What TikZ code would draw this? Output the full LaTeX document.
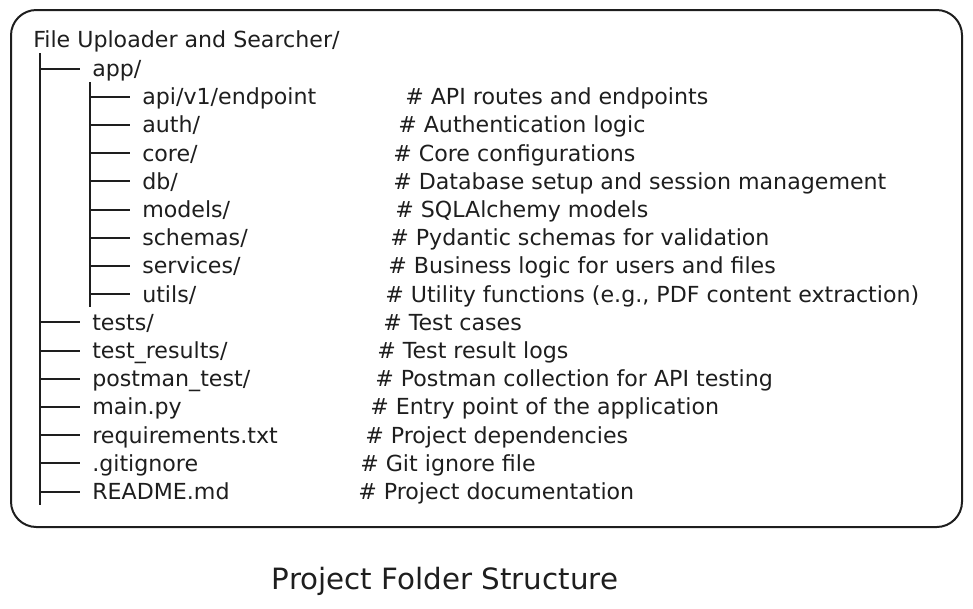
\documentclass[tikz,border=0pt]{standalone}
\usepackage{fontspec}
\setmainfont{DejaVu Sans}
\definecolor{ink}{HTML}{1E1E1E}

\begin{document}
\begin{tikzpicture}[x=0.75pt, y=-0.75pt,
  entry/.style={anchor=west, inner sep=0pt, text height=12pt, text depth=0pt, text=ink, font=\fontsize{16.6}{19}\selectfont},
  tree/.style={draw=ink, line width=1.5pt}]
\useasboundingbox (0,0) rectangle (973,608);
\draw[tree, rounded corners=19pt] (11,10) rectangle (962,527);

% folder names
\node[entry] (root) at (33,39) {File Uploader and Searcher/};
\node[entry] (app) at (92,68.5) {app/};
\node[entry] (api) at (142,96.7) {api/v1/endpoint};
\node[entry] (auth) at (142,124.9) {auth/};
\node[entry] (core) at (142,153.1) {core/};
\node[entry] (db) at (142,181.3) {db/};
\node[entry] (models) at (142,209.5) {models/};
\node[entry] (schemas) at (142,237.7) {schemas/};
\node[entry] (services) at (142,265.9) {services/};
\node[entry] (utils) at (142,294.1) {utils/};
\node[entry] (tests) at (92,322.3) {tests/};
\node[entry] (results) at (92,350.5) {test\_results/};
\node[entry] (postman) at (92,378.7) {postman\_test/};
\node[entry] (mainpy) at (92,406.9) {main.py};
\node[entry] (reqs) at (92,435.1) {requirements.txt};
\node[entry] (gitig) at (92,463.3) {.gitignore};
\node[entry] (readme) at (92,491.5) {README.md};

% comments
\node[entry] (c-api) at (405,96.7) {\# API routes and endpoints};
\node[entry] (c-auth) at (398,124.9) {\# Authentication logic};
\node[entry] (c-core) at (393,153.1) {\# Core configurations};
\node[entry] (c-db) at (393,181.3) {\# Database setup and session management};
\node[entry] (c-models) at (395,209.5) {\# SQLAlchemy models};
\node[entry] (c-schemas) at (390,237.7) {\# Pydantic schemas for validation};
\node[entry] (c-services) at (388,265.9) {\# Business logic for users and files};
\node[entry] (c-utils) at (385,294.1) {\# Utility functions (e.g., PDF content extraction)};
\node[entry] (c-tests) at (383,322.3) {\# Test cases};
\node[entry] (c-results) at (377,350.5) {\# Test result logs};
\node[entry] (c-postman) at (375,378.7) {\# Postman collection for API testing};
\node[entry] (c-mainpy) at (370,406.9) {\# Entry point of the application};
\node[entry] (c-reqs) at (365,435.1) {\# Project dependencies};
\node[entry] (c-gitig) at (360,463.3) {\# Git ignore file};
\node[entry] (c-readme) at (358,491.5) {\# Project documentation};

% tree lines
\coordinate (trunk) at (40,53);
\coordinate (trunkend) at (40,505);
\coordinate (sub) at (90,82);
\coordinate (subend) at (90,307);
\draw[tree] (trunk) -- (trunkend);
\draw[tree] (sub) -- (subend);
\draw[tree] (trunk |- app.west) -- ([xshift=-9pt]app.west);
\draw[tree] (trunk |- tests.west) -- ([xshift=-9pt]tests.west);
\draw[tree] (trunk |- results.west) -- ([xshift=-9pt]results.west);
\draw[tree] (trunk |- postman.west) -- ([xshift=-9pt]postman.west);
\draw[tree] (trunk |- mainpy.west) -- ([xshift=-9pt]mainpy.west);
\draw[tree] (trunk |- reqs.west) -- ([xshift=-9pt]reqs.west);
\draw[tree] (trunk |- gitig.west) -- ([xshift=-9pt]gitig.west);
\draw[tree] (trunk |- readme.west) -- ([xshift=-9pt]readme.west);
\draw[tree] (sub |- api.west) -- ([xshift=-9pt]api.west);
\draw[tree] (sub |- auth.west) -- ([xshift=-9pt]auth.west);
\draw[tree] (sub |- core.west) -- ([xshift=-9pt]core.west);
\draw[tree] (sub |- db.west) -- ([xshift=-9pt]db.west);
\draw[tree] (sub |- models.west) -- ([xshift=-9pt]models.west);
\draw[tree] (sub |- schemas.west) -- ([xshift=-9pt]schemas.west);
\draw[tree] (sub |- services.west) -- ([xshift=-9pt]services.west);
\draw[tree] (sub |- utils.west) -- ([xshift=-9pt]utils.west);

\node[text=ink, font=\fontsize{22}{26}\selectfont] (title) at (445,581) {Project Folder Structure};
\end{tikzpicture}
\end{document}
